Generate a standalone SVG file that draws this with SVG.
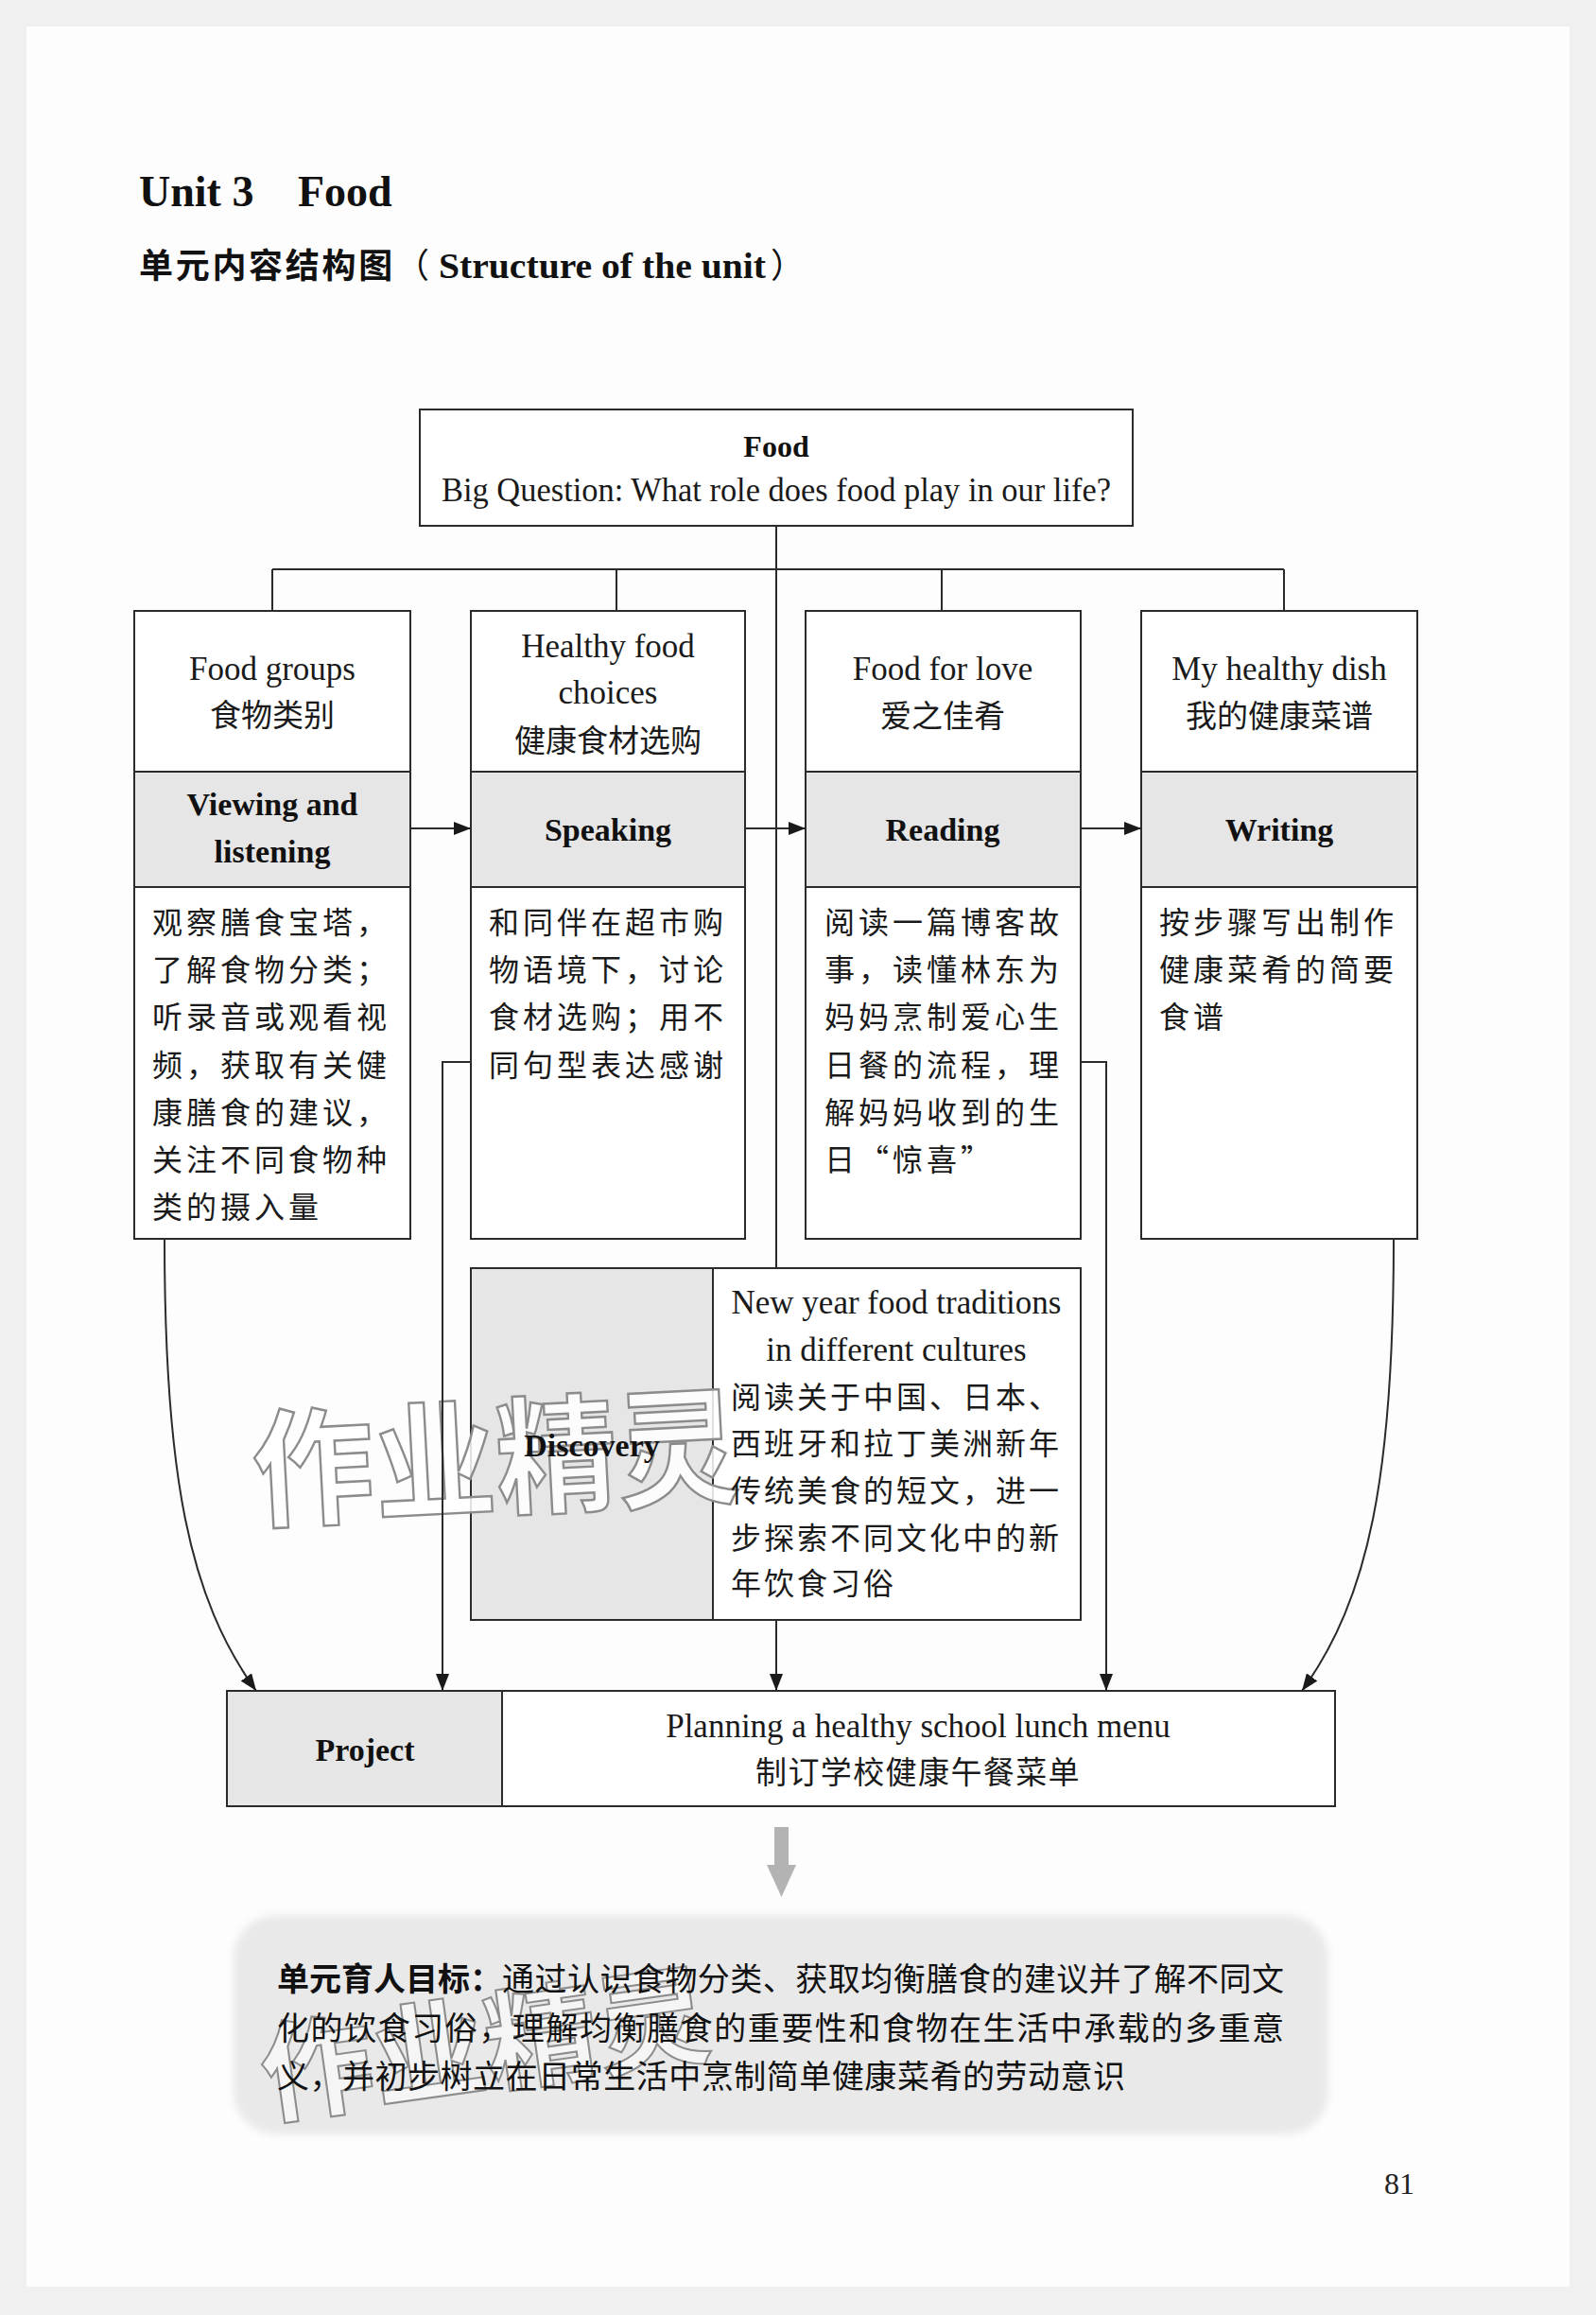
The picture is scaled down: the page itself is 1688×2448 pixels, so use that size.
<svg xmlns="http://www.w3.org/2000/svg" width="1688" height="2448" viewBox="0 0 1688 2448">
<defs>
<style>
.box{fill:#ffffff;stroke:#2b2b2b;stroke-width:2}
.band{fill:#e6e6e6;stroke:#2b2b2b;stroke-width:2}
.ln{fill:none;stroke:#2b2b2b;stroke-width:2}
.arr{fill:none;stroke:#2b2b2b;stroke-width:2;marker-end:url(#ah)}
.en{font-family:"Liberation Serif","Times New Roman",serif;font-size:35px;fill:#1a1a1a}
.enb{font-family:"Liberation Serif","Times New Roman",serif;font-size:34px;font-weight:bold;fill:#111}
.cn{font-family:"Noto Sans CJK SC",sans-serif;font-size:33px;fill:#1a1a1a}
.body{font-family:"Noto Sans CJK SC",sans-serif;font-size:32px;letter-spacing:4px;fill:#1a1a1a}
.disc{font-family:"Noto Sans CJK SC",sans-serif;font-size:32px;letter-spacing:3px;fill:#1a1a1a}
.goal{font-family:"Noto Sans CJK SC",sans-serif;font-size:34px;fill:#111}
.wm{font-family:"Noto Sans CJK SC",sans-serif;font-weight:bold;fill:#ffffff;fill-opacity:0.85;stroke:#8c8c8c;stroke-width:2.5}
.mid{text-anchor:middle}
</style>
<marker id="ah" markerUnits="userSpaceOnUse" markerWidth="18" markerHeight="14" refX="18" refY="7" orient="auto">
<path d="M0,0 L18,7 L0,14 Z" fill="#1a1a1a"/>
</marker>
<filter id="soft" x="-5%" y="-10%" width="110%" height="120%"><feGaussianBlur stdDeviation="4"/></filter>
</defs>

<rect x="0" y="0" width="1688" height="2448" fill="#f0f0f0"/>
<rect x="28" y="28" width="1632" height="2390" fill="#fdfdfd"/>

<g id="title">
<text x="147" y="218" style="font-family:'Liberation Serif','Times New Roman',serif;font-size:46px;font-weight:bold;fill:#111">Unit 3</text>
<text x="315" y="218" style="font-family:'Liberation Serif','Times New Roman',serif;font-size:46px;font-weight:bold;fill:#111">Food</text>
<text x="147" y="294" style="font-family:'Noto Sans CJK SC',sans-serif;font-size:36px;font-weight:bold;letter-spacing:2.7px;fill:#111">单元内容结构图</text>
<text x="418" y="294" style="font-family:'Noto Sans CJK SC',sans-serif;font-size:36px;fill:#111">（</text>
<text x="464" y="294" textLength="346" lengthAdjust="spacingAndGlyphs" style="font-family:'Liberation Serif','Times New Roman',serif;font-size:38px;font-weight:bold;fill:#111">Structure of the unit</text>
<text x="815" y="294" style="font-family:'Noto Sans CJK SC',sans-serif;font-size:36px;fill:#111">）</text>
</g>

<!-- shapes -->
<g id="node-food">
<rect class="box" x="444" y="433" width="754" height="123"/>
<text class="enb mid" x="821" y="483" style="font-size:32px">Food</text>
<text class="en mid" x="821" y="530" textLength="708" lengthAdjust="spacingAndGlyphs">Big Question: What role does food play in our life?</text>
</g>

<g id="node-food-groups">
<rect class="box" x="142" y="646" width="292" height="664"/>
<rect class="band" x="142" y="816" width="292" height="122"/>
<text class="en mid" x="288" y="719">Food groups</text>
<text class="cn mid" x="288" y="768">食物类别</text>
<text class="enb mid" x="288" y="862">Viewing and</text>
<text class="enb mid" x="288" y="912">listening</text>
<text class="body" x="161" y="987">观察膳食宝塔，</text>
<text class="body" x="161" y="1037">了解食物分类；</text>
<text class="body" x="161" y="1087">听录音或观看视</text>
<text class="body" x="161" y="1138">频，获取有关健</text>
<text class="body" x="161" y="1188">康膳食的建议，</text>
<text class="body" x="161" y="1238">关注不同食物种</text>
<text class="body" x="161" y="1288">类的摄入量</text>
</g>

<g id="node-healthy-food">
<rect class="box" x="498" y="646" width="290" height="664"/>
<rect class="band" x="498" y="816" width="290" height="122"/>
<text class="en mid" x="643" y="695">Healthy food</text>
<text class="en mid" x="643" y="744">choices</text>
<text class="cn mid" x="643" y="795">健康食材选购</text>
<text class="enb mid" x="643" y="889">Speaking</text>
<text class="body" x="517" y="987">和同伴在超市购</text>
<text class="body" x="517" y="1037">物语境下，讨论</text>
<text class="body" x="517" y="1087">食材选购；用不</text>
<text class="body" x="517" y="1138">同句型表达感谢</text>
</g>

<g id="node-food-for-love">
<rect class="box" x="852" y="646" width="291" height="664"/>
<rect class="band" x="852" y="816" width="291" height="122"/>
<text class="en mid" x="997" y="719">Food for love</text>
<text class="cn mid" x="997" y="769">爱之佳肴</text>
<text class="enb mid" x="997" y="889">Reading</text>
<text class="body" x="872" y="987">阅读一篇博客故</text>
<text class="body" x="872" y="1037">事，读懂林东为</text>
<text class="body" x="872" y="1087">妈妈烹制爱心生</text>
<text class="body" x="872" y="1138">日餐的流程，理</text>
<text class="body" x="872" y="1188">解妈妈收到的生</text>
<text class="body" x="872" y="1238">日“惊喜”</text>
</g>

<g id="node-my-healthy-dish">
<rect class="box" x="1207" y="646" width="292" height="664"/>
<rect class="band" x="1207" y="816" width="292" height="122"/>
<text class="en mid" x="1353" y="719">My healthy dish</text>
<text class="cn mid" x="1353" y="769">我的健康菜谱</text>
<text class="enb mid" x="1353" y="889">Writing</text>
<text class="body" x="1226" y="987">按步骤写出制作</text>
<text class="body" x="1226" y="1037">健康菜肴的简要</text>
<text class="body" x="1226" y="1087">食谱</text>
</g>

<g id="node-discovery">
<rect class="box" x="498" y="1341" width="645" height="372"/>
<rect class="band" x="498" y="1341" width="256" height="372"/>
</g>

<g id="node-project">
<rect class="box" x="240" y="1788" width="1172" height="122"/>
<rect class="band" x="240" y="1788" width="291" height="122"/>
</g>

<g id="node-goal">
<rect x="247" y="2025" width="1158" height="232" rx="45" fill="#e9e9e9" filter="url(#soft)"/>
</g>

<g id="watermark">
<text class="wm" x="266" y="1592" textLength="515" lengthAdjust="spacingAndGlyphs" style="font-size:135px" transform="rotate(-3 523 1530)">作业精灵</text>
<text class="wm" x="272" y="2205" textLength="478" lengthAdjust="spacingAndGlyphs" style="font-size:116px;stroke-width:2;fill-opacity:0.55" transform="rotate(-8 510 2150)">作业精灵</text>
</g>

<g id="connectors">
<path class="ln" d="M821,556 V1341"/>
<path class="ln" d="M288,602 H1358"/>
<path class="ln" d="M288,602 V646 M652,602 V646 M996,602 V646 M1358,602 V646"/>
<path class="arr" d="M434,876 H498"/>
<path class="arr" d="M788,876 H852"/>
<path class="arr" d="M1143,876 H1207"/>
<path class="arr" d="M174,1310 C174,1560 200,1690 271,1788"/>
<path class="arr" d="M498,1123 H468 V1788"/>
<path class="arr" d="M821,1713 V1788"/>
<path class="arr" d="M1143,1123 H1170 V1788"/>
<path class="arr" d="M1474,1310 C1474,1560 1448,1690 1377,1788"/>
<path d="M819,1932 H834 V1972 H842 L826.5,2006 L811,1972 H819 Z" fill="#b3b3b3"/>
</g>

<g id="labels-discovery">
<text class="enb mid" x="626" y="1540">Discovery</text>
<text class="en mid" x="948" y="1389">New year food traditions</text>
<text class="en mid" x="948" y="1439">in different cultures</text>
<text class="disc" x="773" y="1489">阅读关于中国、日本、</text>
<text class="disc" x="773" y="1538">西班牙和拉丁美洲新年</text>
<text class="disc" x="773" y="1588">传统美食的短文，进一</text>
<text class="disc" x="773" y="1638">步探索不同文化中的新</text>
<text class="disc" x="773" y="1686">年饮食习俗</text>
</g>

<g id="labels-project">
<text class="enb mid" x="386" y="1862">Project</text>
<text class="en mid" x="971" y="1837">Planning a healthy school lunch menu</text>
<text class="cn mid" x="971" y="1886" style="letter-spacing:1.4px">制订学校健康午餐菜单</text>
</g>

<g id="labels-goal">
<text class="goal" x="293" y="2105" textLength="238" lengthAdjust="spacing" style="font-weight:bold">单元育人目标：</text>
<text class="goal" x="531" y="2105" textLength="827" lengthAdjust="spacing">通过认识食物分类、获取均衡膳食的建议并了解不同文</text>
<text class="goal" x="293" y="2157" textLength="1065" lengthAdjust="spacing">化的饮食习俗，理解均衡膳食的重要性和食物在生活中承载的多重意</text>
<text class="goal" x="293" y="2208" textLength="897" lengthAdjust="spacing">义，并初步树立在日常生活中烹制简单健康菜肴的劳动意识</text>
</g>

<text x="1480" y="2320" text-anchor="middle" style="font-family:'Liberation Serif','Times New Roman',serif;font-size:32px;fill:#222">81</text>
</svg>
